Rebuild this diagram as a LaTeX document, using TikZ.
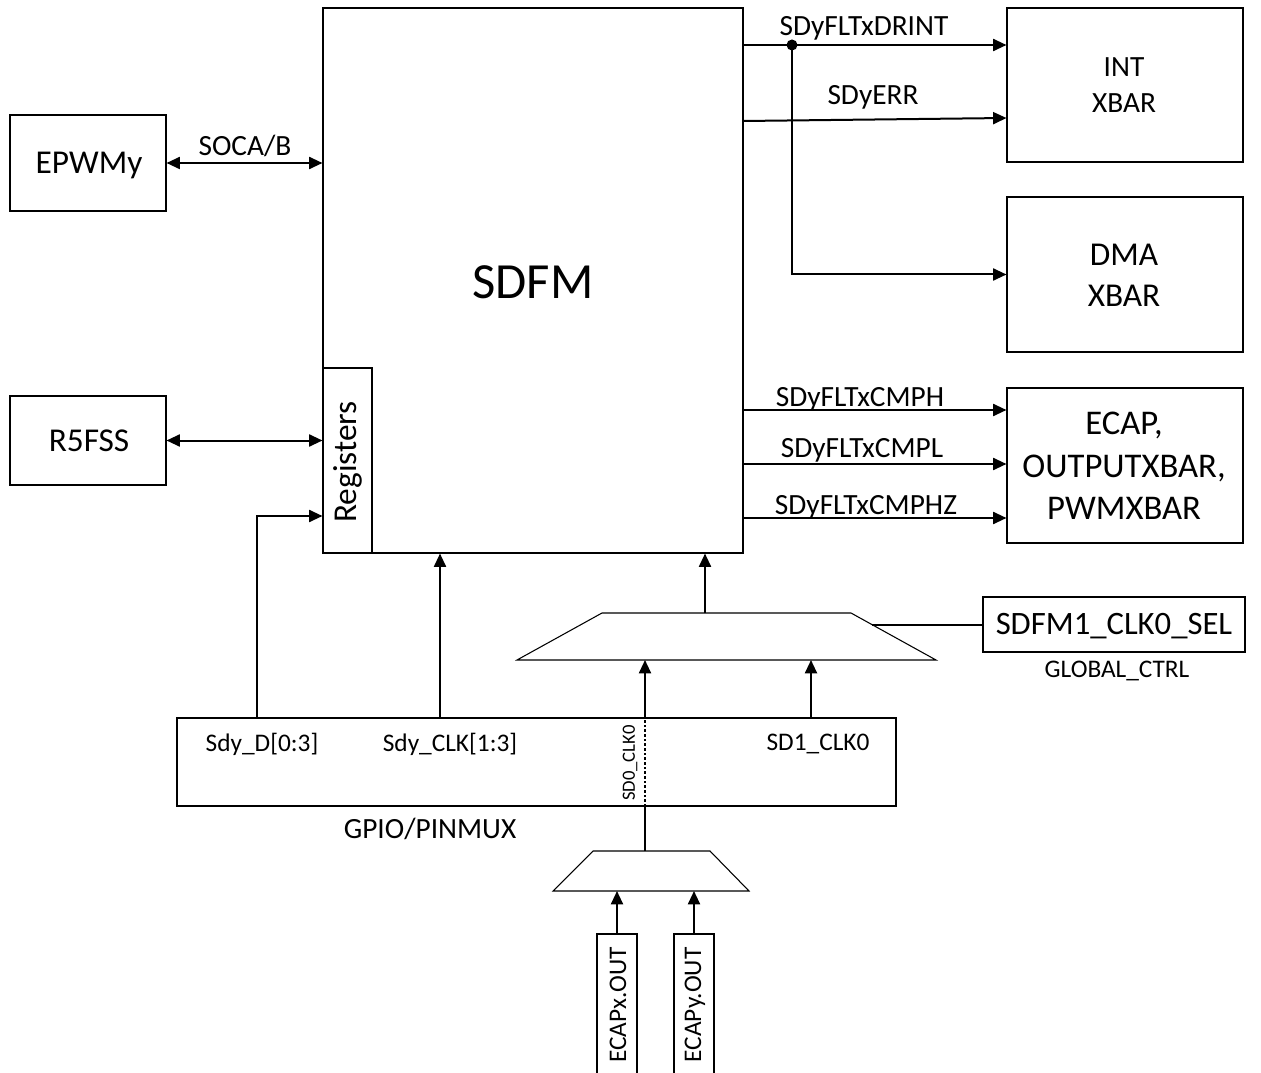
\documentclass[tikz,border=0pt]{standalone}
\usepackage{fontspec}
\setmainfont{Carlito}
\usetikzlibrary{arrows.meta,fit}
\begin{document}
\begin{tikzpicture}[x=0.75pt,y=-0.75pt,
  box/.style={draw,line width=0.8pt,inner sep=0pt},
  txt/.style={inner sep=0pt,align=center},
  wire/.style={line width=1.5pt},
  arr/.style={wire,-{Triangle[length=10pt,width=9pt]}},
  darr/.style={wire,{Triangle[length=10pt,width=9pt]}-{Triangle[length=10pt,width=9pt]}},
  lbl/.style={inner sep=0pt,font=\fontsize{19}{23}\selectfont},
  sig/.style={inner sep=0pt,font=\fontsize{22}{26}\selectfont},
  mux/.style={line width=0.8pt,fill=white}]
\useasboundingbox (0,0) rectangle (1261,1073);
\clip (0,0) rectangle (1261,1073);

% main block
\node[box,fit={(323,8)(743,553)}] (sdfm) {};
\node[txt,font=\fontsize{38}{44}\selectfont] (sdfmtxt) at (533,282) {SDFM};
\node[box,fit={(323,368)(372,553)}] (reg) {};
\node[txt,rotate=90,font=\fontsize{25}{30}\selectfont] (regtxt) at (348,462) {Registers};

% left blocks
\node[box,fit={(10,115)(166,211)}] (epwm) {};
\node[txt,font=\fontsize{25}{30}\selectfont] (epwmtxt) at (89,165) {EPWMy};
\node[box,fit={(10,396)(166,485)}] (r5) {};
\node[txt,font=\fontsize{25}{30}\selectfont] (r5txt) at (89,441) {R5FSS};

% right blocks
\node[box,fit={(1007,8)(1243,162)}] (intx) {};
\node[txt,font=\fontsize{22}{27}\selectfont] (intxtxt) at (1124,85) {INT\\XBAR};
\node[box,fit={(1007,197)(1243,352)}] (dmax) {};
\node[txt,font=\fontsize{25}{31}\selectfont] (dmaxtxt) at (1124,275) {DMA\\XBAR};
\node[box,fit={(1007,388)(1243,543)}] (ecapb) {};
\node[txt,font=\fontsize{26}{32}\selectfont] (ecapbtxt) at (1124,466) {ECAP,\\OUTPUTXBAR,\\PWMXBAR};

% select register
\node[box,fit={(983,597)(1245,652)}] (sel) {};
\node[txt,font=\fontsize{24.5}{29}\selectfont] (seltxt) at (1114,626) {SDFM1\_CLK0\_SEL};
\node[lbl] (gctrl) at (1117,671) {GLOBAL\_CTRL};

% GPIO box
\node[box,fit={(177,718)(896,806)}] (gpio) {};
\node[lbl] (sdd) at (262,744) {Sdy\_D[0:3]};
\node[lbl] (sdclk) at (450,744) {Sdy\_CLK[1:3]};
\node[lbl] (sd1) at (818,744) {SD1\_CLK0};
\node[sig] (gpiotxt) at (430,829) {GPIO/PINMUX};
\node[txt,rotate=90,font=\fontsize{14}{17}\selectfont] (sd0) at (630,763) {SD0\_CLK0};

% muxes
\draw[mux] (602,613) -- (851,613) -- (936,660) -- (517,660) -- cycle;
\coordinate (m1out) at (705,613);
\coordinate (m1in0) at (645,660);
\coordinate (m1in1) at (811,660);
\coordinate (m1sel) at (871.8,624.5);
\draw[mux] (593,851) -- (710,851) -- (749,891) -- (553,891) -- cycle;
\coordinate (m2out) at (645,851);
\coordinate (m2bot) at (645,891);

% ECAP out boxes (open at bottom)
\node[box,fit={(597,934)(637,1090)}] (ecx) {};
\node[box,fit={(674,934)(714,1090)}] (ecy) {};
\node[txt,rotate=90,font=\fontsize{19}{23}\selectfont] (ecxt) at (618,1005) {ECAPx.OUT};
\node[txt,rotate=90,font=\fontsize{19}{23}\selectfont] (ecyt) at (695,1005) {ECAPy.OUT};

% left connectors
\draw[darr] (epwm.east) -- (epwm.east -| sdfm.west);
\node[sig] (soca) at (245,146) {SOCA/B};
\draw[darr] (r5.east) -- (r5.east -| reg.west);
\draw[arr] (gpio.north -| 257,0) |- (reg.west |- 0,516);
\draw[arr] (gpio.north -| 440,0) -- (sdfm.south -| 440,0);

% mux connectors
\draw[arr] (m1out) -- (sdfm.south -| m1out);
\draw[wire] (sel.west) -- (sel.west -| m1sel);
\draw[arr] (gpio.north -| m1in0) -- (m1in0);
\draw[arr] (gpio.north -| m1in1) -- (m1in1);
\draw[wire] (m2out) -- (gpio.south -| m2out);
\draw[line width=1.2pt,dash pattern=on 2pt off 1.5pt] (gpio.south -| m2out) -- (gpio.north -| m2out);
\draw[arr] (ecx.north) -- (ecx.north |- m2bot);
\draw[arr] (ecy.north) -- (ecy.north |- m2bot);

% right connectors
\coordinate (dot) at (792,45);
\draw[arr] (sdfm.east |- 0,45) -- (intx.west |- 0,45);
\fill (dot) circle (5.5);
\draw[arr] (dot) |- (dmax.west);
\draw[arr] (sdfm.east |- 0,121) -- (intx.west |- 0,118);
\draw[arr] (sdfm.east |- 0,410) -- (ecapb.west |- 0,410);
\draw[arr] (sdfm.east |- 0,464) -- (ecapb.west |- 0,464);
\draw[arr] (sdfm.east |- 0,518) -- (ecapb.west |- 0,518);

\node[sig] (l1) at (864,28) {SDyFLTxDRINT};
\node[sig] (l2) at (873,97) {SDyERR};
\node[sig] (l3) at (860,399) {SDyFLTxCMPH};
\node[sig] (l4) at (862,450) {SDyFLTxCMPL};
\node[sig] (l5) at (866,507) {SDyFLTxCMPHZ};
\end{tikzpicture}
\end{document}
